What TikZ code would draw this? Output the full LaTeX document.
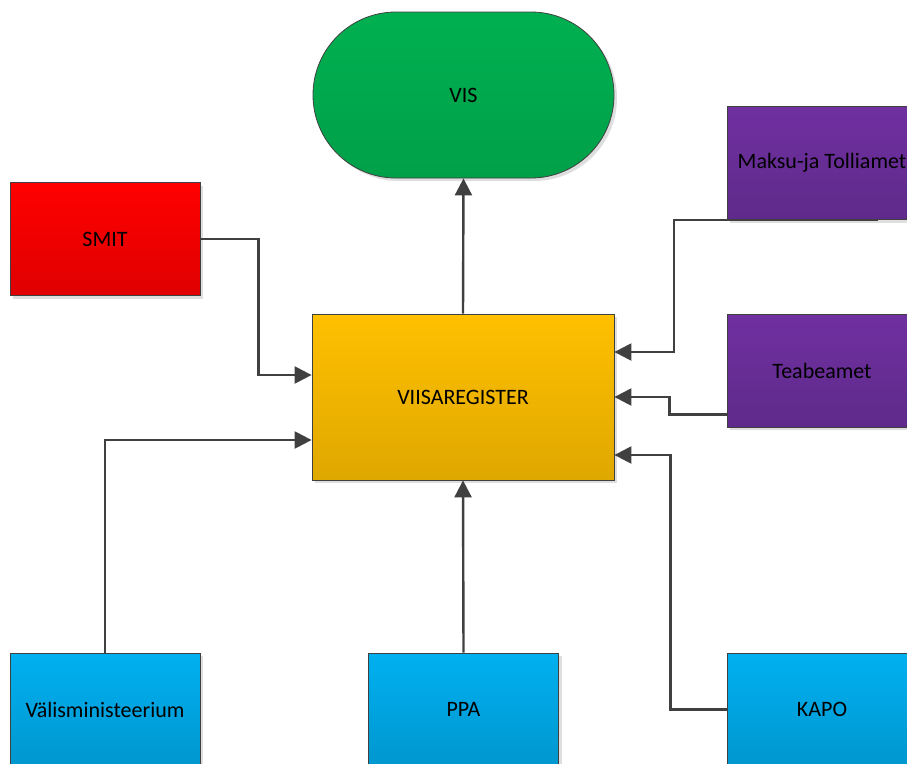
\documentclass[tikz,border=0pt]{standalone}
\usepackage{fontspec}
\setmainfont{Carlito}
\usepackage{xcolor}
\usetikzlibrary{arrows.meta,shapes.misc,shadows}

\definecolor{redtop}{HTML}{FF0000}
\definecolor{redbot}{HTML}{DF0000}
\definecolor{greentop}{HTML}{00B050}
\definecolor{greenbot}{HTML}{00A049}
\definecolor{goldtop}{HTML}{FFC000}
\definecolor{goldbot}{HTML}{DFA800}
\definecolor{purpletop}{HTML}{7030A0}
\definecolor{purplebot}{HTML}{5E2A8A}
\definecolor{bluetop}{HTML}{00B0F0}
\definecolor{bluebot}{HTML}{0097CF}
\definecolor{linegray}{HTML}{404040}

\begin{document}
\begin{tikzpicture}[x=1pt, y=-1pt,
    font=\fontsize{22}{26}\selectfont,
    box/.style={draw=linegray, line width=0.8pt, text=black,
        minimum width=190pt, minimum height=113pt, inner sep=0pt,
        drop shadow={shadow xshift=3pt, shadow yshift=-3pt, fill=black!13, opacity=1}},
    conn/.style={draw=linegray, line width=2.4pt,
        -{Triangle[length=17pt,width=17pt]}}]
				\useasboundingbox (0,0) rectangle (907,763);
				
				\node[box, rounded rectangle, minimum width=301pt, minimum height=166pt,
				    top color=greentop, bottom color=greenbot] (vis) at (463.5,95) {VIS};
				\node[box, minimum width=302pt, minimum height=166pt,
				    top color=goldtop, bottom color=goldbot] (reg) at (463,397) {VIISAREGISTER};
				
				\node[box, top color=redtop, bottom color=redbot] (smit) at (105,239) {SMIT};
				\node[box, top color=purpletop, bottom color=purplebot] (mak) at (822,163) {Maksu-ja Tolliamet};
				\node[box, top color=purpletop, bottom color=purplebot] (teab) at (822,370.5) {Teabeamet};
				
				\node[box, top color=bluetop, bottom color=bluebot] (val) at (105,709.5) {Välisministeerium};
				\node[box, top color=bluetop, bottom color=bluebot] (ppa) at (463.5,709.5) {PPA};
				\node[box, top color=bluetop, bottom color=bluebot] (kapo) at (822,709.5) {KAPO};
				
				\draw[conn] (reg.north) -- (vis.south);
				\draw[conn] (smit.east) -- ++(58,0) |- ([yshift=22pt]reg.west);
				\draw[conn] (val.north) |- ([yshift=-43pt]reg.west);
				\draw[conn] (ppa.north) -- (reg.south);
				\draw[conn] ([xshift=56pt]mak.south) -- ++(-204,0) |- ([yshift=45pt]reg.east);
				\draw[conn] ([yshift=-44pt]teab.west) -- ++(-57,0) |- (reg.east);
				\draw[conn] (kapo.west) -- ++(-56,0) |- ([yshift=-58pt]reg.east);
\end{tikzpicture}
\end{document}
